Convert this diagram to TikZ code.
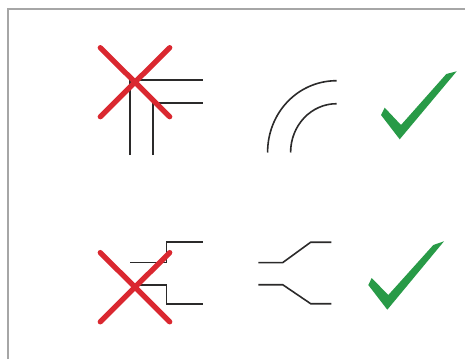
\documentclass[tikz,border=0pt]{standalone}
\definecolor{framegray}{HTML}{A6A6A6}
\definecolor{crossred}{HTML}{DA2830}
\definecolor{tickgreen}{HTML}{289A47}
\definecolor{linedark}{HTML}{2B2A2A}
\tikzset{
  frameline/.style={draw=framegray,line width=1.6pt},
  track/.style={draw=linedark,line width=1.6pt,line join=miter},
  cross/.style={draw=crossred,line width=5.3pt,line cap=round},
  tick/.style={fill=tickgreen,draw=none}
}
\begin{document}
\begin{tikzpicture}[x=1pt,y=-1pt]
\useasboundingbox (0,0) rectangle (465,359);
\draw[frameline] (8.2,359) -- (8.2,9.2) -- (465,9.2);
% top left
\draw[track] (130,155) -- (130,80) -- (203,80);
\draw[track] (152.7,155) -- (152.7,103) -- (203,103);
\draw[cross] (100.3,47.7) -- (169.7,116.7);
\draw[cross] (169.7,47.7) -- (100.3,116.7);
% top right
\draw[track] (267.6,152.5) .. controls (267.6,112.5) and (298,80.7) .. (336.7,80.7);
\draw[track] (290.6,152.5) .. controls (290.6,125.5) and (311,103.7) .. (336.7,103.7);
\fill[tick] (381,115) -- (384.7,107.7) -- (401,125) -- (446.3,74) -- (456.7,71.3) -- (399.7,139.3) -- cycle;
% bottom left
\draw[track] (130,262.6) -- (166.3,262.6) -- (166.3,242.2) -- (202.7,242.2);
\draw[track] (134.7,284.7) -- (166.3,284.7) -- (166.3,303.7) -- (202.7,303.7);
\draw[cross] (100.3,252.6) -- (169.7,321.8);
\draw[cross] (169.7,252.6) -- (100.3,321.8);
% bottom right
\draw[track] (258.3,262.6) -- (282.7,262.6) -- (310.7,242.2) -- (331.3,242.2);
\draw[track] (258.3,284.7) -- (282.7,284.7) -- (310.7,303.7) -- (331.3,303.7);
\fill[tick] (368.3,285) -- (371.7,278) -- (388.3,295) -- (433.3,245) -- (444,241.3) -- (387.3,309.7) -- cycle;
\end{tikzpicture}
\end{document}
